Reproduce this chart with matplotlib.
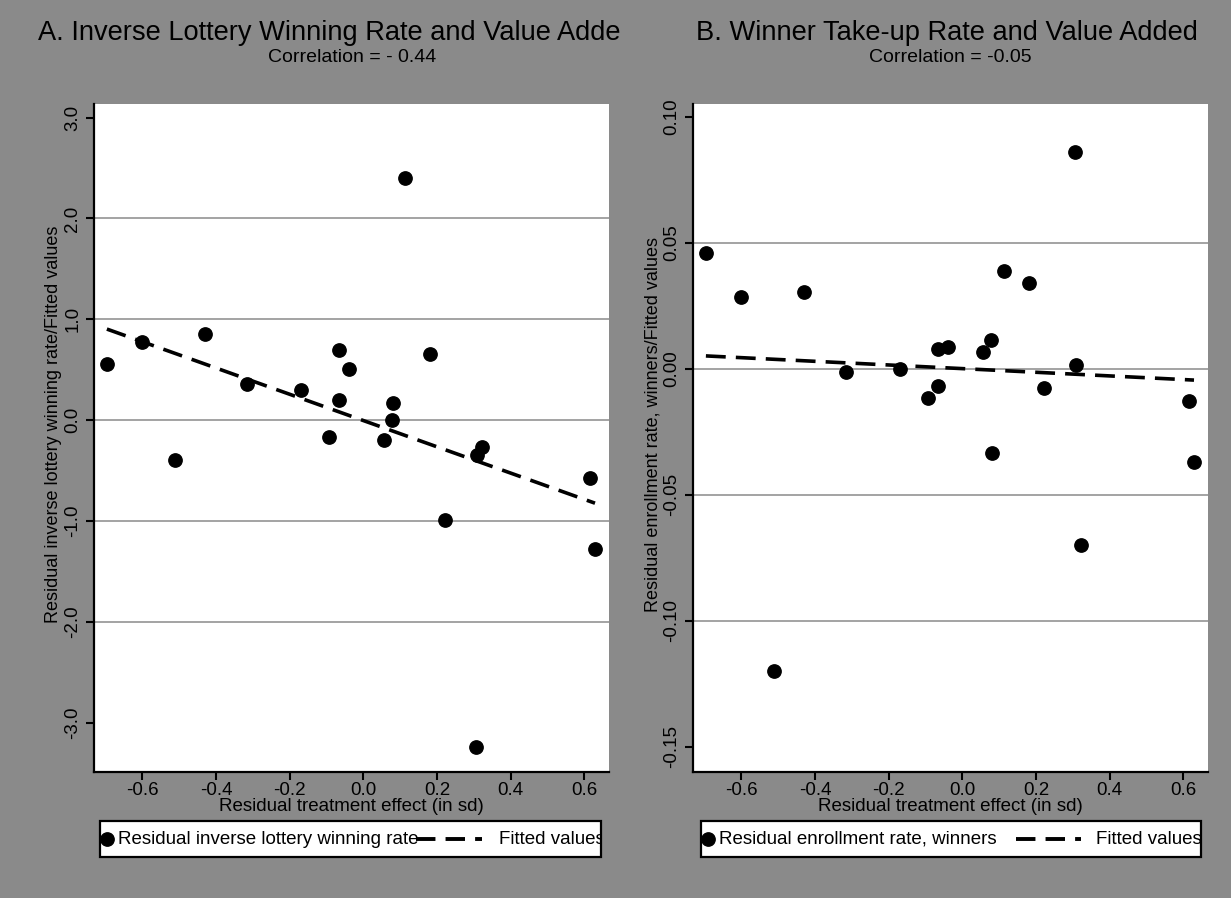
import numpy as np
import matplotlib
matplotlib.use('Agg')
import matplotlib.pyplot as plt
from matplotlib.lines import Line2D
from matplotlib.patches import Rectangle
from matplotlib.transforms import Bbox, TransformedBbox

plt.rcParams['font.family'] = ['Liberation Sans', 'DejaVu Sans']

# residual treatment effect (x, shared by both panels)
treat_effect = [-0.696, -0.600, -0.512, -0.431, -0.317, -0.170, -0.092, -0.065, -0.065, -0.038,
                0.055, 0.078, 0.080, 0.114, 0.180, 0.222, 0.309, 0.322, 0.307, 0.615, 0.629]
# panel A: residual inverse lottery winning rate
inv_lottery = [0.56, 0.77, -0.40, 0.85, 0.36, 0.30, -0.17, 0.70, 0.20, 0.51,
               -0.20, 0.00, 0.17, 2.40, 0.66, -0.99, -0.35, -0.27, -3.24, -0.57, -1.28]
# panel B: residual enrollment rate, winners
enroll_rate = [0.0460, 0.0286, -0.1200, 0.0306, -0.0012, 0.0000, -0.0115, 0.0079, -0.0067, 0.0087,
               0.0067, 0.0115, -0.0333, 0.0389, 0.0341, -0.0075, 0.0016, -0.0698, 0.0861, -0.0127, -0.0369]

x_ticks = [-0.6, -0.4, -0.2, 0.0, 0.2, 0.4, 0.6]
a_ticks = [3.0, 2.0, 1.0, 0.0, -1.0, -2.0, -3.0]
b_ticks = [0.10, 0.05, 0.00, -0.05, -0.10, -0.15]

W, H = 1231, 898
BG = '#8a8a8a'


def fx(p):
    return p / W


def fy(p):
    return 1 - p / H


def panel(fig, left, x, y, yticks, yfmt, ylim, ylabel):
    ax = fig.add_axes([fx(left), fy(772), 515 / W, 668 / H])
    ax.set_facecolor('white')
    for s in ['top', 'right']:
        ax.spines[s].set_visible(False)
    for s in ['left', 'bottom']:
        ax.spines[s].set_linewidth(1.6)
    # gridlines except at the outer ticks
    for t in yticks[1:-1]:
        ax.axhline(t, color='#9c9c9c', lw=1.3, zorder=0)
    ax.plot(x, y, 'o', color='black', ms=9.6, zorder=3)
    slope, icpt = np.polyfit(x, y, 1)
    xs = np.array([min(x), max(x)])
    ax.plot(xs, icpt + slope * xs, color='black', lw=2.6, dashes=(5.5, 2.8), zorder=2)
    ax.set_xlim(-0.731, 0.667)
    ax.set_ylim(*ylim)
    ax.set_xticks(x_ticks)
    ax.set_xticklabels([f'{v:.1f}' for v in x_ticks])
    ax.set_yticks(yticks)
    ax.set_yticklabels([yfmt.format(v) for v in yticks], rotation=90, va='center')
    ax.tick_params(direction='out', length=6, width=1.5, labelsize=13.5, pad=3)
    ax.tick_params(axis='x', pad=1)
    ax.set_xlabel('Residual treatment effect (in sd)', fontsize=13.5, labelpad=-0.5)
    ax.set_ylabel(ylabel, fontsize=13)
    ax.yaxis.set_label_coords(-0.062, 0.52)
    return ax


def legend_box(fig, left, right, dot_label, dash_x0, dash_x1, fit_x):
    top, bot = 821, 857
    yc = 839
    rect = Rectangle((fx(left), fy(bot)), (right - left) / W, (bot - top) / H,
                     transform=fig.transFigure, facecolor='white', edgecolor='black', lw=1.6)
    fig.add_artist(rect)
    fig.add_artist(Line2D([fx(left + 7)], [fy(yc)], marker='o', ms=9.6, color='black',
                          transform=fig.transFigure))
    fig.text(fx(left + 18), fy(yc), dot_label, fontsize=13.5, va='center')
    fig.add_artist(Line2D([fx(dash_x0), fx(dash_x1)], [fy(yc), fy(yc)], color='black', lw=2.8,
                          dashes=(5, 2.6), transform=fig.transFigure))
    t = fig.text(fx(fit_x), fy(yc), 'Fitted values', fontsize=13.5, va='center', clip_on=True)
    t.set_clip_box(TransformedBbox(Bbox([[0, 0], [fx(right + 1), 1]]), fig.transFigure))


fig = plt.figure(figsize=(W / 100, H / 100), dpi=100, facecolor=BG)

panel(fig, 94, treat_effect, inv_lottery, a_ticks, '{:.1f}', (-3.49, 3.135),
      'Residual inverse lottery winning rate/Fitted values')
panel(fig, 693, treat_effect, enroll_rate, b_ticks, '{:.2f}', (-0.160, 0.105),
      'Residual enrollment rate, winners/Fitted values')

# titles (panel A title is cut off at the panel edge, as in the source)
ta = fig.text(fx(38), fy(33), 'A. Inverse Lottery Winning Rate and Value Added', fontsize=19.6,
              va='center', ha='left', clip_on=True)
ta.set_clip_box(TransformedBbox(Bbox([[0, 0], [fx(621), 1]]), fig.transFigure))
fig.text(fx(947), fy(33), 'B. Winner Take-up Rate and Value Added', fontsize=19.6,
         va='center', ha='center')
fig.text(fx(352), fy(58), 'Correlation = - 0.44', fontsize=14, va='center', ha='center')
fig.text(fx(950), fy(58), 'Correlation = -0.05', fontsize=14, va='center', ha='center')

legend_box(fig, 100, 601, 'Residual inverse lottery winning rate', 416, 482, 499)
legend_box(fig, 701, 1201, 'Residual enrollment rate, winners', 1016, 1081, 1096)

fig.savefig('out.png', dpi=100, facecolor=BG)
